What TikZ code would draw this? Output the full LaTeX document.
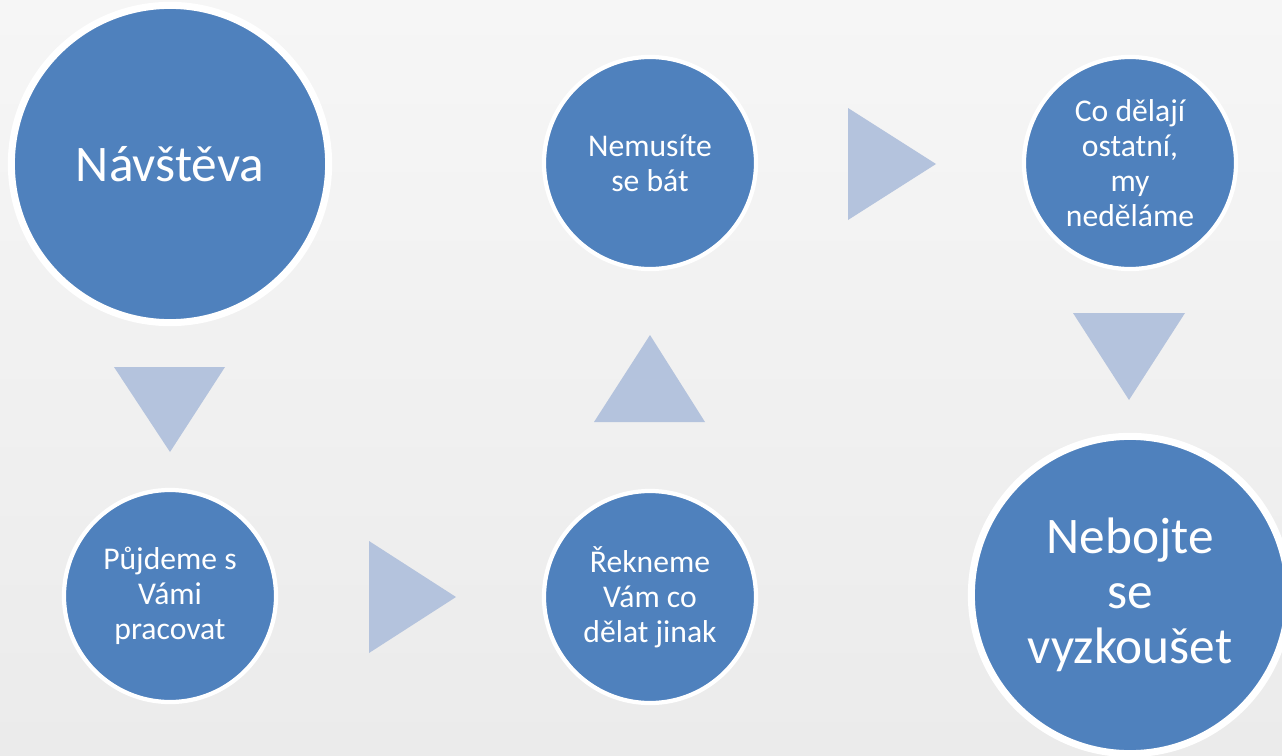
\documentclass[tikz,border=0pt]{standalone}
\usepackage{fontspec}
\setmainfont{Carlito}
\usepackage{tikz}
\usetikzlibrary{shapes}
\definecolor{stepblue}{HTML}{4F81BD}
\definecolor{arrowblue}{HTML}{B4C3DD}
\definecolor{bgtop}{HTML}{F6F6F6}
\definecolor{bgbot}{HTML}{EBEBEB}
\tikzset{
  bigstep/.style={circle,draw=white,line width=5pt,fill=stepblue,text=white,
    minimum size=7.93cm,inner sep=0pt,align=center,
    font=\fontsize{36.5}{39}\selectfont},
  smallstep/.style={circle,draw=white,line width=3pt,fill=stepblue,text=white,
    minimum size=5.3cm,inner sep=0pt,align=center,
    font=\fontsize{22.5}{25}\selectfont},
  chevron/.style={fill=arrowblue}
}

\begin{document}
\begin{tikzpicture}[x=0.025cm,y=-0.025cm]
\useasboundingbox (0,0) rectangle (1282,756);
\clip (0,0) rectangle (1282,756);
\shade[top color=bgtop,bottom color=bgbot] (0,0) rectangle (1282,756);
% Steps
\node at (170,164) [bigstep] (Visit) {Návštěva};
\node at (170,596) [smallstep] (Work) {Půjdeme s\\Vámi\\pracovat};
\node at (650,597) [smallstep] (Tell) {Řekneme\\Vám co\\dělat jinak};
\node at (650,163) [smallstep] (Fear) {Nemusíte\\se bát};
\node at (1130,163) [smallstep] (Others) {Co dělají\\ostatní,\\my\\neděláme};
\node at (1130,595) [bigstep] (Try) {Nebojte\\se\\vyzkoušet};
% Arrows between steps
\fill[chevron] (114,367) -- (225,367) -- (170,452) -- cycle;
\fill[chevron] (369,541) -- (369,653) -- (456,597) -- cycle;
\fill[chevron] (594,422) -- (705,422) -- (650,335) -- cycle;
\fill[chevron] (848,108) -- (848,220) -- (936,164) -- cycle;
\fill[chevron] (1073,313) -- (1185,313) -- (1129,400) -- cycle;
\end{tikzpicture}
\end{document}
